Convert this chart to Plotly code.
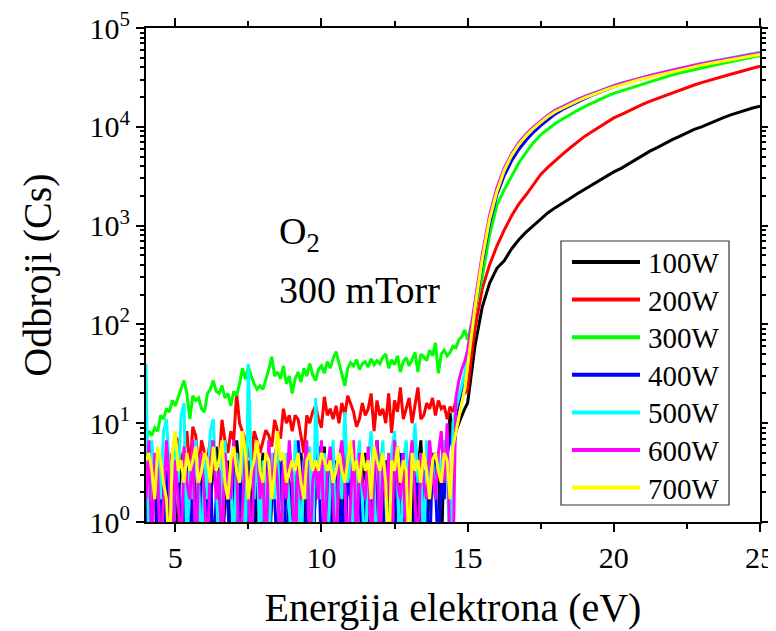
import plotly.graph_objects as go

# ---------------- data ----------------
# energy grid (eV): fine sampling in the noise region, coarser on the rise
energy_low = [round(4.0 + 0.1 * i, 1) for i in range(110)]      # 4.0 .. 14.9
energy_high = [round(15.0 + 0.25 * i, 2) for i in range(41)]    # 15.0 .. 25.0
energy = energy_low + energy_high

powers = ["100W", "200W", "300W", "400W", "500W", "600W", "700W"]
colors = ["#000000", "#FF0000", "#00FF00", "#0000FF", "#00FFFF", "#FF00FF", "#FFFF00"]

counts_100W_low = [
    0, 2.5, 1.7, 3.3, 0, 4.2, 1.7, 0, 3.3, 2.5,
    0, 1.7, 4.2, 2.5, 0, 3.3, 5, 1.7, 0, 2.5,
    4.2, 0, 1.7, 3.3, 5.8, 2.5, 0, 1.7, 4.2, 0,
    2.5, 6.7, 3.3, 0, 1.7, 4.2, 2.5, 0, 3.3, 1.7,
    5, 2.5, 0, 1.7, 4.2, 6.7, 1.7, 0, 3.3, 2.5,
    0, 4.2, 2.5, 5, 1.7, 0, 3.3, 0, 2.5, 4.2,
    1.7, 5.8, 0, 3.3, 2.5, 1.7, 4.2, 0, 6.7, 2.5,
    3.3, 0, 1.7, 4.2, 2.5, 5, 0, 1.7, 3.3, 6.7,
    2.5, 0, 4.2, 1.7, 0, 3.3, 5.8, 2.5, 0, 1.7,
    4.2, 2.5, 0, 3.3, 6.7, 1.7, 0, 4.2, 2.5, 5,
    3.3, 0, 6.7, 4.2, 12.7, 5, 8.3, 10, 12, 14,
]
counts_100W_high = [
    16, 60, 150, 260, 370, 440, 580, 720, 860, 1000,
    1180, 1350, 1520, 1680, 1880, 2100, 2330, 2600, 2850, 3150,
    3500, 3800, 4200, 4700, 5200, 5700, 6200, 6800, 7400, 8000,
    8700, 9400, 10000, 10800, 11600, 12400, 13200, 14000, 14800, 15500,
    16200,
]

counts_200W_low = [
    2.5, 4.2, 1.7, 3.3, 5, 0, 0, 2.5, 4.2, 5,
    7.3, 6.7, 4.2, 5, 8.3, 3.3, 9.2, 7.5, 3.3, 6.7,
    5, 4.2, 6.7, 5, 3.3, 4.2, 10.8, 6.7, 5, 8.3,
    6.7, 20, 10, 8.3, 6.7, 5, 4.2, 8.3, 6.7, 5,
    6.7, 8.5, 7.5, 5.8, 10.8, 8.3, 7, 14, 10, 12,
    8.3, 12, 11, 7.5, 5, 12, 10, 13, 15, 11,
    9, 18.5, 12, 14, 11, 15, 10, 16, 12, 19,
    16, 13, 9.2, 11, 16, 12, 14, 20, 8.3, 17,
    12, 14, 10, 20, 8, 17, 13, 23, 11, 14,
    18, 10, 15, 23, 11, 12, 16, 14, 18, 12,
    17, 14, 15, 11, 14.7, 13, 17, 16, 19, 20,
]
counts_200W_high = [
    22, 90, 230, 400, 620, 900, 1250, 1650, 2050, 2600,
    3300, 3900, 4600, 5300, 6100, 7000, 8000, 8900, 9900, 11000,
    12300, 13300, 14500, 15700, 17000, 18200, 19400, 20700, 22200, 23600,
    25000, 26500, 28000, 29500, 31000, 32500, 34000, 35600, 37400, 39200,
    41000,
]

counts_300W_low = [
    6.7, 8.3, 7.5, 9, 8.3, 12, 11, 14, 13, 17,
    15, 18, 22, 27, 20, 11, 19, 17, 18, 14,
    13, 20, 22, 27, 21, 20, 24, 18, 20, 15,
    21, 19, 25, 36, 28, 37, 30, 25, 22, 24,
    22, 27, 35, 47, 30, 33, 28, 38, 25, 30,
    20, 28, 33, 26, 36, 30, 40, 31, 27, 35,
    38, 32, 42, 36, 45, 53, 40, 30, 24, 36,
    41, 38, 44, 35, 40, 42, 37, 45, 39, 43,
    40, 47, 50, 36, 44, 39, 48, 33, 42, 46,
    38, 44, 52, 33, 50, 47, 43, 55, 48, 65,
    32, 50, 55, 48, 52, 60, 58, 70, 75, 88,
]
counts_300W_high = [
    70, 140, 300, 800, 1600, 2300, 3200, 4300, 5500, 6900,
    8300, 9500, 10800, 12000, 13300, 14600, 16000, 17400, 18800, 20300,
    21800, 23000, 24500, 26000, 27500, 29000, 30500, 32000, 33500, 35000,
    36500, 38000, 39500, 41000, 42500, 44000, 45800, 47500, 49200, 50800,
    52500,
]

counts_400W_low = [
    1.7, 0, 2.5, 4.2, 0, 1.7, 0, 3.3, 1.7, 0,
    2.5, 4.2, 0, 1.7, 5, 0, 2.5, 0, 3.3, 1.7,
    0, 2.5, 4.2, 0, 1.7, 3.3, 0, 5, 1.7, 0,
    3.3, 0, 1.7, 4.2, 0, 2.5, 0, 1.7, 3.3, 0,
    1.7, 4.2, 0, 2.5, 1.7, 0, 3.3, 5, 0, 1.7,
    2.5, 0, 6.7, 3.3, 0, 1.7, 4.2, 0, 2.5, 5.8,
    0, 1.7, 3.3, 0, 2.5, 4.2, 0, 1.7, 0, 3.3,
    1.7, 0, 4.2, 2.5, 0, 1.7, 5, 0, 3.3, 1.7,
    0, 2.5, 0, 4.2, 1.7, 0, 3.3, 5, 0, 1.7,
    2.5, 0, 1.7, 4.2, 0, 3.3, 1.7, 0, 5, 2.5,
    0, 3.3, 1.7, 5, 6.7, 8.3, 12, 16, 22, 28,
]
counts_400W_high = [
    40, 140, 420, 1050, 2050, 3200, 4500, 5900, 7300, 8800,
    10300, 11900, 13500, 15000, 16400, 17800, 19300, 20800, 22300, 23900,
    25500, 27000, 28400, 29800, 31200, 32600, 34000, 35500, 37000, 38500,
    40000, 41500, 43000, 44500, 46000, 47500, 49000, 50600, 52200, 53800,
    55500,
]

counts_500W_low = [
    40, 0, 6.7, 2.5, 5, 1.7, 8.3, 11, 3.3, 0,
    6.7, 2.5, 12, 16, 0, 4.2, 1.7, 6.7, 2.5, 0,
    5, 1.7, 8.3, 11, 2.5, 0, 4.2, 6.7, 1.7, 3.3,
    0, 5, 2.5, 6.7, 0, 40, 3.3, 1.7, 6.7, 0,
    4.2, 2.5, 0, 5, 1.7, 6.7, 0, 3.3, 5, 1.7,
    0, 6.7, 2.5, 0, 4.2, 1.7, 5.8, 0, 18, 3.3,
    1.7, 5, 0, 2.5, 6.7, 0, 4.2, 1.7, 13, 2.5,
    5, 0, 3.3, 6.7, 1.7, 0, 4.2, 8.3, 2.5, 0,
    3.3, 6.7, 1.7, 0, 5, 8.3, 2.5, 0, 4.2, 6.7,
    1.7, 3.3, 10, 2.5, 5, 0, 6.7, 2.5, 4.2, 1.7,
    5, 2.5, 6.7, 3.3, 0, 10, 14, 18, 24, 32,
]
counts_500W_high = [
    45, 160, 480, 1220, 2350, 3750, 5300, 6900, 8450, 9950,
    11550, 13150, 14800, 16100, 17500, 18900, 20300, 21700, 23100, 24700,
    26200, 27600, 29000, 30400, 31900, 33300, 34700, 36200, 37700, 39200,
    40700, 42200, 43800, 45300, 46800, 48400, 50000, 51600, 53300, 55000,
    56800,
]

counts_600W_low = [
    1.7, 6.7, 0, 5, 3.3, 0, 1.7, 6.7, 2.5, 0,
    4.2, 1.7, 0, 5.8, 2.5, 1.7, 6.7, 0, 3.3, 5,
    1.7, 0, 4.2, 6.7, 1.7, 3.3, 0, 5, 2.5, 1.7,
    6.7, 3.3, 0, 1.7, 5, 2.5, 0, 4.2, 6.7, 1.7,
    3.3, 0, 6.7, 1.7, 5, 2.5, 0, 4.2, 1.7, 6.7,
    2.5, 0, 5, 1.7, 3.3, 6.7, 0, 2.5, 4.2, 1.7,
    6.7, 0, 3.3, 5.8, 1.7, 0, 4.2, 6.7, 2.5, 0,
    1.7, 6.7, 0, 5, 2.5, 1.7, 5.8, 0, 3.3, 6.7,
    0, 4.2, 1.7, 5, 0, 6.7, 2.5, 1.7, 5, 0,
    3.3, 6.7, 1.7, 0, 5, 2.5, 1.7, 6.7, 3.3, 1.7,
    5, 8.3, 2.5, 10, 0, 0, 18, 27, 35, 42,
]
counts_600W_high = [
    55, 175, 510, 1260, 2400, 3800, 5300, 6900, 8400, 9900,
    11500, 13100, 14700, 16000, 17400, 18800, 20200, 21600, 23000, 24500,
    26000, 27400, 28800, 30200, 31600, 33000, 34400, 35900, 37400, 38900,
    40400, 41900, 43400, 44900, 46400, 47900, 49500, 51100, 52700, 54400,
    56000,
]

counts_700W_low = [
    4.2, 5, 3.3, 1.7, 5.8, 4.2, 2.5, 1.7, 0, 5,
    8.3, 3.3, 4.2, 2.5, 5, 3.3, 4.2, 5.8, 2.5, 3.3,
    5, 4.2, 2.5, 5.8, 3.3, 4.2, 6.7, 2.5, 1.7, 4.2,
    5.8, 3.3, 2.5, 8.3, 5, 1.7, 3.3, 4.2, 6.7, 3.3,
    2.5, 5, 4.2, 1.7, 3.3, 8.3, 4.2, 5, 2.5, 3.3,
    4.2, 3.3, 5, 2.5, 1.7, 4.2, 5, 3.3, 4.2, 3.3,
    5, 4.2, 3.3, 4.2, 2.5, 3.3, 5, 3.3, 2.5, 4.2,
    6.7, 3.3, 4.2, 2.5, 5, 3.3, 4.2, 1.7, 5.8, 4.2,
    3.3, 5, 2.5, 0, 4.2, 3.3, 5.8, 2.5, 4.2, 3.3,
    0, 5, 3.3, 4.2, 2.5, 5, 3.3, 1.7, 4.2, 5,
    3.3, 2.5, 5, 4.2, 1.7, 5.8, 8.3, 12, 16, 22,
]
counts_700W_high = [
    38, 145, 460, 1150, 2200, 3600, 5100, 6650, 8100, 9600,
    11100, 12700, 14200, 15500, 16900, 18200, 19600, 21000, 22300, 23800,
    25200, 26600, 27900, 29300, 30700, 32000, 33400, 34800, 36300, 37700,
    39200, 40600, 42100, 43500, 45000, 46500, 48000, 49500, 51000, 52500,
    54000,
]

series = [
    counts_100W_low + counts_100W_high,
    counts_200W_low + counts_200W_high,
    counts_300W_low + counts_300W_high,
    counts_400W_low + counts_400W_high,
    counts_500W_low + counts_500W_high,
    counts_600W_low + counts_600W_high,
    counts_700W_low + counts_700W_high,
]

y_tick_vals = [1, 10, 100, 1000, 10000, 100000]
y_tick_text = ["10<sup>0</sup>", "10<sup>1</sup>", "10<sup>2</sup>",
               "10<sup>3</sup>", "10<sup>4</sup>", "10<sup>5</sup>"]
x_tick_vals = [5, 10, 15, 20, 25]

# ---------------- figure ----------------
FONT = "Liberation Serif"
OFF = 8                      # page body margin of the html document
W, H = 776 - OFF, 631 - OFF
# plot area in page pixels
PL, PR, PT, PB = 146, 760, 28, 522
L, R, T, B = PL - OFF, PR - OFF, PT - OFF, PB - OFF


def px_x(p):
    return (p - PL) / (PR - PL)


def px_y(p):
    return (PB - p) / (PB - PT)


fig = go.Figure()
for name, col, ys in zip(powers, colors, series):
    # zero counts cannot be drawn on a log axis: put them below the axis floor
    yplot = [v if v > 0 else 0.4 for v in ys]
    fig.add_trace(go.Scatter(x=energy, y=yplot, mode="lines", name=name,
                             line=dict(color=col, width=3), showlegend=False))

minor_y = [m * 10 ** k for k in range(0, 5) for m in range(2, 10)]

fig.update_layout(
    width=W, height=H, autosize=False,
    margin=dict(l=L, r=W - R, t=T, b=H - B, pad=0, autoexpand=False),
    paper_bgcolor="white", plot_bgcolor="white",
    font=dict(family=FONT, color="black", size=30),
    xaxis=dict(
        range=[4, 25], tickmode="array", tickvals=x_tick_vals, automargin=False,
        ticklabeloverflow="allow",
        ticks="outside", ticklen=8, tickwidth=2, tickcolor="black",
        showline=True, linewidth=2, linecolor="black", mirror="ticks",
        showgrid=False, zeroline=False,
        tickfont=dict(family=FONT, size=30),
        minor=dict(tickmode="array", tickvals=[7.5, 12.5, 17.5, 22.5],
                   ticks="outside", ticklen=5, tickwidth=2, tickcolor="black",
                   showgrid=False),
        title=dict(text="Energija elektrona (eV)", font=dict(family=FONT, size=40),
                   standoff=20),
    ),
    yaxis=dict(
        type="log", range=[0, 5], tickmode="array", automargin=False,
        ticklabeloverflow="allow",
        tickvals=y_tick_vals, ticktext=y_tick_text,
        ticks="outside", ticklen=8, tickwidth=2, tickcolor="black",
        showline=True, linewidth=2, linecolor="black", mirror="ticks",
        showgrid=False, zeroline=False,
        tickfont=dict(family=FONT, size=30),
        minor=dict(tickmode="array", tickvals=minor_y,
                   ticks="outside", ticklen=4, tickwidth=1.5, tickcolor="black",
                   showgrid=False),
        title=dict(text="Odbroji (Cs)", font=dict(family=FONT, size=40),
                   standoff=26),
    ),
)

# text annotation inside the plot
fig.add_annotation(x=px_x(277), y=px_y(234), xref="paper", yref="paper",
                   text="O<sub>2</sub>", showarrow=False, xanchor="left",
                   yanchor="middle", font=dict(family=FONT, size=38))
fig.add_annotation(x=px_x(277), y=px_y(290), xref="paper", yref="paper",
                   text="300 mTorr", showarrow=False, xanchor="left",
                   yanchor="middle", font=dict(family=FONT, size=38))

# legend drawn as a boxed key
box = dict(x0=561, x1=729, y0=241, y1=505)
fig.add_shape(type="rect", xref="paper", yref="paper",
              x0=px_x(box["x0"]), x1=px_x(box["x1"]),
              y0=px_y(box["y1"]), y1=px_y(box["y0"]),
              line=dict(color="#333333", width=1.2), fillcolor="white", layer="above")
row0, step = 262, 37.6
for i, (name, col) in enumerate(zip(powers, colors)):
    yy = row0 + step * i
    fig.add_shape(type="line", xref="paper", yref="paper",
                  x0=px_x(572), x1=px_x(640), y0=px_y(yy), y1=px_y(yy),
                  line=dict(color=col, width=4), layer="above")
    fig.add_annotation(x=px_x(646), y=px_y(yy + 1), xref="paper", yref="paper",
                       text=name, showarrow=False, xanchor="left", yanchor="middle",
                       font=dict(family=FONT, size=29))

fig.write_html("out.html")
